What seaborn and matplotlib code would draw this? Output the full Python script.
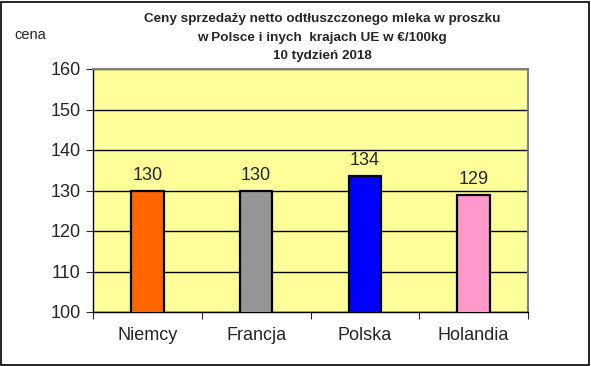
import pandas as pd
import matplotlib
matplotlib.use("Agg")
import matplotlib.pyplot as plt
import seaborn as sns

countries = ["Niemcy", "Francja", "Polska", "Holandia"]
prices = [129.9, 129.9, 133.6, 128.9]
labels = ["130", "130", "134", "129"]
colors = ["#FF6600", "#969696", "#0000FF", "#FF99CC"]
yticks = [100, 110, 120, 130, 140, 150, 160]

df = pd.DataFrame({"kraj": countries, "cena": prices})

sns.set_style("white")
plt.rcParams["font.family"] = ["Liberation Sans", "DejaVu Sans"]

fig = plt.figure(figsize=(5.91, 3.66), dpi=100)
ax = fig.add_axes([93 / 591, 1 - 312 / 366, 435 / 591, 243 / 366])

sns.barplot(data=df, x="kraj", y="cena", hue="kraj", palette=colors, saturation=1,
            width=0.3, edgecolor="black", linewidth=1.6, legend=False, ax=ax,
            zorder=3)

ax.set_facecolor("#FFFF99")
ax.set_ylim(100, 160)
ax.set_xlim(-0.5, 3.5)
ax.set_yticks(yticks)
ax.tick_params(axis="y", labelsize=13, length=5, direction="out", left=True, pad=4)
ax.set_xticks([-0.5, 0.5, 1.5, 2.5, 3.5])
ax.set_xticklabels([])
ax.tick_params(axis="x", length=5, direction="out", bottom=True)
for i, c in enumerate(countries):
    ax.text(i, 94.3, c, ha="center", va="center", fontsize=13)
ax.grid(axis="y", color="black", linewidth=1, zorder=1)
ax.set_axisbelow(True)
ax.set_xlabel("")
ax.set_ylabel("")

for side in ["left", "bottom"]:
    ax.spines[side].set_color("black")
    ax.spines[side].set_linewidth(1)
for side in ["top", "right"]:
    ax.spines[side].set_color("#808080")
    ax.spines[side].set_linewidth(1.5)

for i, (v, lab) in enumerate(zip(prices, labels)):
    ax.text(i, v + 1.7, lab, ha="center", va="bottom", fontsize=13)

fig.text(322 / 591, 1 - 13 / 366,
         "Ceny sprzedaży netto odtłuszczonego mleka w proszku\n"
         "w Polsce i inych  krajach UE w €/100kg\n10 tydzień 2018",
         ha="center", va="top", fontsize=9.7, fontweight="bold", linespacing=1.75)
fig.text(14 / 591, 1 - 35 / 366, "cena", ha="left", va="center", fontsize=10.5)

fig.patches.append(plt.Rectangle((0.002, 0.004), 0.994, 0.99, transform=fig.transFigure,
                                 fill=False, edgecolor="black", linewidth=1.2))

fig.savefig("out.png", dpi=100)
